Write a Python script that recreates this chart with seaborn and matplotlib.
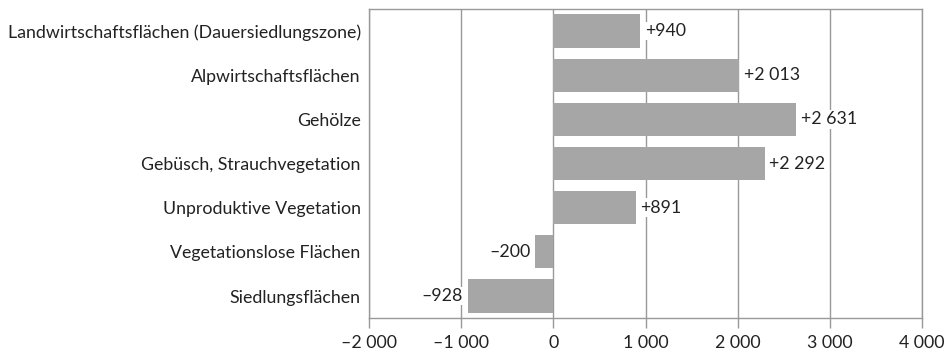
import numpy as np
import pandas as pd
import matplotlib
matplotlib.use("Agg")
import matplotlib.pyplot as plt
import seaborn as sns

# data
categories = ["Landwirtschaftsflächen (Dauersiedlungszone)", "Alpwirtschaftsflächen",
              "Gehölze", "Gebüsch, Strauchvegetation", "Unproduktive Vegetation",
              "Vegetationslose Flächen", "Siedlungsflächen"]
values = [940, 2013, 2631, 2292, 891, -200, -928]
xticks = [-2000, -1000, 0, 1000, 2000, 3000, 4000]


def fmt(v, sign=True):
    s = "{:,}".format(abs(v)).replace(",", " ")
    if v < 0:
        return "\u2013" + s
    if sign and v > 0:
        return "+" + s
    return s


sns.set_style("white")
plt.rcParams["font.family"] = ["Lato", "DejaVu Sans"]
fs = 12.8

df = pd.DataFrame({"cat": categories, "val": values})

fig = plt.figure(figsize=(9.47, 3.57), dpi=100)
ax = fig.add_axes([0.3897, 0.109, 0.584, 0.866])

sns.barplot(data=df, x="val", y="cat", orient="h", color="#a6a6a6",
            width=0.75, saturation=1, linewidth=0, ax=ax, zorder=2)

ax.set_xlim(-2000, 4000)
ax.set_ylim(6.5, -0.5)
ax.set_xticks(xticks)
ax.set_xticklabels([fmt(t, sign=False) for t in xticks], fontsize=fs, color="#222222")
ax.tick_params(axis="y", labelsize=fs, labelcolor="#222222", length=0, pad=6)
ax.tick_params(axis="x", length=7, width=1, color="#999999", direction="out", pad=5)
ax.xaxis.set_ticks_position("bottom")
ax.set_xlabel("")
ax.set_ylabel("")
ax.xaxis.grid(True, color="#999999", linewidth=1, zorder=0)
ax.set_axisbelow(True)
for sp in ax.spines.values():
    sp.set_color("#999999")
    sp.set_linewidth(1)

for i, v in enumerate(values):
    if v >= 0:
        ax.text(v + 50, i, fmt(v), ha="left", va="center", fontsize=fs,
                color="#222222", zorder=3,
                bbox=dict(facecolor="white", edgecolor="none", pad=1))
    else:
        ax.text(v - 50, i, fmt(v), ha="right", va="center", fontsize=fs,
                color="#222222", zorder=3,
                bbox=dict(facecolor="white", edgecolor="none", pad=1))

fig.savefig("out.png", dpi=100)
